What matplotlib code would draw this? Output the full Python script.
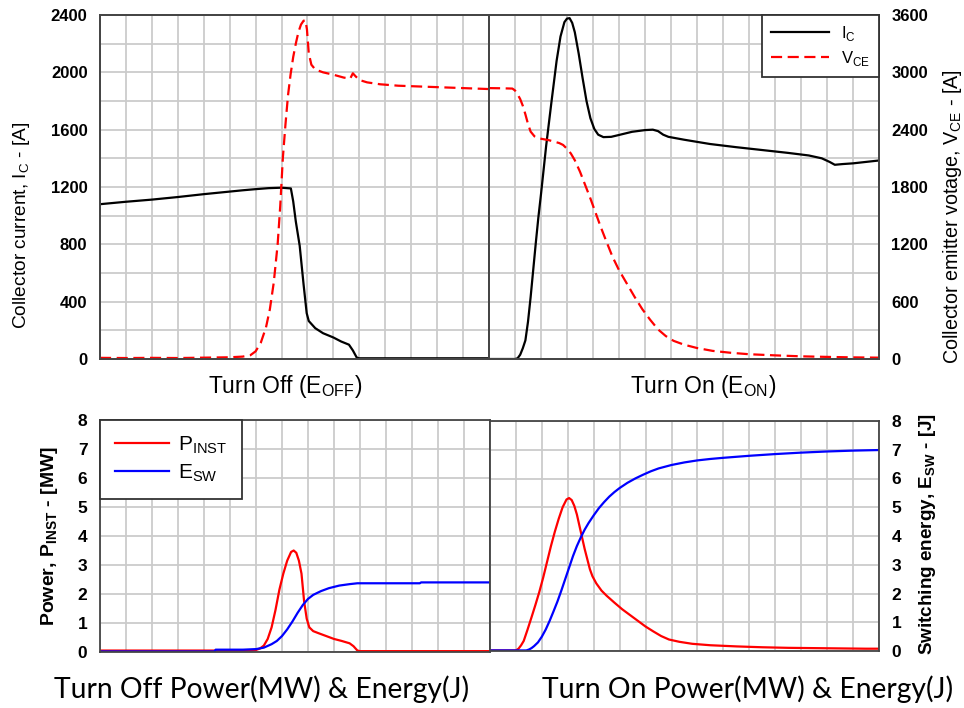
import matplotlib
matplotlib.use("Agg")
import matplotlib.pyplot as plt
from matplotlib.ticker import MultipleLocator

# ---------------- data (x in grid divisions 0..15) ----------------
off_ic_t = [0, 1, 2, 3, 4, 5, 5.5, 6, 6.5, 7, 7.36, 7.45, 7.55, 7.7, 7.85, 7.97, 8.05,
            8.3, 8.6, 9.0, 9.3, 9.6, 9.75, 9.9, 10.0, 11, 12, 13, 14, 15]
off_ic = [1080, 1097, 1112, 1130, 1150, 1168, 1177, 1185, 1192, 1195, 1190, 1100, 960,
          790, 520, 320, 265, 215, 180, 150, 122, 100, 60, 10, 5, 5, 5, 5, 5, 5]

off_vce_t = [0, 1, 2, 3, 4, 5, 5.5, 5.8, 6.0, 6.2, 6.4, 6.55, 6.7, 6.85, 6.95, 7.05, 7.15,
             7.25, 7.35, 7.45, 7.55, 7.65, 7.75, 7.85, 7.92, 7.98, 8.05, 8.15, 8.3, 8.6,
             9.0, 9.4, 9.65, 9.75, 9.85, 10.0, 10.3, 10.8, 11.5, 12.5, 13.5, 14.5, 15]
off_vce = [12, 10, 12, 10, 14, 18, 25, 40, 80, 170, 330, 520, 800, 1200, 1600, 2100, 2450,
           2760, 2980, 3160, 3300, 3420, 3500, 3540, 3545, 3450, 3200, 3080, 3030, 3000,
           2975, 2945, 2935, 2990, 2960, 2920, 2895, 2875, 2860, 2850, 2840, 2830, 2825]

on_ic_t = [0, 1.0, 1.1, 1.2, 1.3, 1.4, 1.5, 1.6, 1.7, 1.8, 1.9, 2.0, 2.2, 2.4, 2.6, 2.75,
           2.9, 3.0, 3.1, 3.2, 3.3, 3.45, 3.6, 3.75, 3.9, 4.05, 4.2, 4.4, 4.7, 5.0, 5.5,
           6.0, 6.3, 6.5, 6.7, 6.9, 7.5, 8.5, 9.5, 10.5, 11.5, 12.3, 12.8, 13.1, 13.3,
           13.6, 14.0, 14.5, 15]
on_ic = [0, 0, 5, 30, 75, 130, 260, 430, 620, 810, 990, 1150, 1490, 1790, 2080, 2250,
         2350, 2375, 2378, 2345, 2280, 2130, 1960, 1800, 1680, 1605, 1565, 1548, 1550,
         1563, 1585, 1597, 1600, 1590, 1565, 1550, 1530, 1500, 1478, 1458, 1438, 1420,
         1400, 1375, 1355, 1360, 1365, 1375, 1385]

on_vce_t = [0, 0.5, 0.9, 1.0, 1.1, 1.2, 1.3, 1.4, 1.5, 1.6, 1.75, 1.9, 2.1, 2.3, 2.5, 2.7,
            2.85, 3.0, 3.15, 3.3, 3.5, 3.7, 3.9, 4.1, 4.3, 4.5, 4.75, 5.0, 5.3, 5.6, 5.9,
            6.2, 6.5, 6.8, 7.1, 7.5, 8.0, 8.6, 9.3, 10.0, 11.0, 12.0, 13.0, 14.0, 15]
on_vce = [2835, 2833, 2830, 2810, 2770, 2720, 2650, 2560, 2460, 2380, 2330, 2310, 2300,
          2290, 2275, 2260, 2240, 2200, 2150, 2080, 1960, 1820, 1680, 1530, 1380, 1240,
          1070, 930, 790, 650, 520, 410, 310, 240, 190, 150, 115, 85, 65, 50, 38, 28, 22,
          17, 14]

off_p_t = [0, 1, 2, 3, 4, 5, 5.8, 6.0, 6.15, 6.3, 6.45, 6.6, 6.75, 6.9, 7.05, 7.2, 7.35,
           7.45, 7.55, 7.65, 7.75, 7.85, 7.95, 8.05, 8.2, 8.4, 8.7, 9.0, 9.3, 9.6, 9.75,
           9.9, 10.0, 11, 12, 13, 14, 15]
off_p = [0.05, 0.05, 0.05, 0.05, 0.05, 0.05, 0.05, 0.07, 0.12, 0.22, 0.45, 0.85, 1.45,
         2.15, 2.7, 3.15, 3.45, 3.5, 3.42, 3.15, 2.7, 1.75, 1.15, 0.85, 0.72, 0.65, 0.55,
         0.45, 0.38, 0.3, 0.2, 0.05, 0.03, 0.03, 0.03, 0.03, 0.03, 0.03]

off_e_t = [0, 1, 2, 3, 4, 4.4, 4.45, 5, 5.5, 6.0, 6.3, 6.6, 6.8, 7.0, 7.2, 7.4, 7.6, 7.8,
           8.0, 8.2, 8.5, 8.8, 9.2, 9.6, 9.9, 11, 12.3, 12.35, 13, 14, 15]
off_e = [0.02, 0.02, 0.02, 0.02, 0.02, 0.02, 0.08, 0.08, 0.08, 0.1, 0.15, 0.27, 0.38,
         0.55, 0.78, 1.05, 1.35, 1.62, 1.83, 1.97, 2.1, 2.2, 2.29, 2.34, 2.37, 2.37, 2.37,
         2.4, 2.4, 2.4, 2.4]

on_p_t = [0, 0.5, 1.0, 1.1, 1.2, 1.3, 1.45, 1.6, 1.75, 1.9, 2.05, 2.2, 2.35, 2.5, 2.65,
          2.8, 2.95, 3.05, 3.15, 3.25, 3.35, 3.45, 3.55, 3.65, 3.75, 3.85, 3.95, 4.1, 4.3,
          4.5, 4.8, 5.1, 5.4, 5.7, 6.0, 6.3, 6.6, 6.9, 7.3, 7.8, 8.5, 9.5, 10.5, 11.5,
          12.5, 13.5, 14.5, 15]
on_p = [0.02, 0.02, 0.02, 0.08, 0.2, 0.35, 0.75, 1.17, 1.6, 2.05, 2.55, 3.1, 3.65, 4.15,
        4.6, 5.0, 5.27, 5.32, 5.25, 5.05, 4.75, 4.35, 3.95, 3.55, 3.2, 2.85, 2.6, 2.35,
        2.1, 1.92, 1.68, 1.45, 1.25, 1.05, 0.85, 0.68, 0.52, 0.4, 0.32, 0.25, 0.2, 0.16,
        0.13, 0.11, 0.1, 0.09, 0.08, 0.08]

on_e_t = [0, 1.0, 1.4, 1.5, 1.6, 1.7, 1.85, 2.0, 2.15, 2.3, 2.45, 2.6, 2.75, 2.9, 3.05,
          3.2, 3.35, 3.5, 3.65, 3.8, 4.0, 4.2, 4.4, 4.6, 4.8, 5.0, 5.3, 5.6, 5.9, 6.2, 6.5,
          7.0, 7.5, 8.0, 8.5, 9.0, 10.0, 11.0, 12.0, 13.0, 14.0, 15]
on_e = [0.02, 0.02, 0.02, 0.05, 0.1, 0.17, 0.3, 0.5, 0.75, 1.05, 1.38, 1.72, 2.1, 2.5,
        2.9, 3.3, 3.65, 3.95, 4.22, 4.45, 4.72, 4.97, 5.18, 5.37, 5.53, 5.67, 5.85, 6.0,
        6.13, 6.25, 6.35, 6.47, 6.56, 6.63, 6.68, 6.72, 6.79, 6.85, 6.9, 6.94, 6.97, 6.99]

ic_ticks = [0, 400, 800, 1200, 1600, 2000, 2400]
vce_ticks = [0, 600, 1200, 1800, 2400, 3000, 3600]
pe_ticks = [0, 1, 2, 3, 4, 5, 6, 7, 8]

# ---------------- figure ----------------
W, H = 964, 708
fig = plt.figure(figsize=(W / 100, H / 100), dpi=100)

SANS = ["Liberation Sans", "DejaVu Sans"]
NARROW = ["Liberation Sans Narrow", "Liberation Sans", "DejaVu Sans"]
GRID = "#cbcbcb"
FRAME = "#454545"
LW = 1.6


def ax_px(x0, y0, x1, y1):
    return fig.add_axes([x0 / W, 1 - y1 / H, (x1 - x0) / W, (y1 - y0) / H])


def base(ax, ymax, major, minor):
    ax.set_xlim(0, 15)
    ax.set_ylim(0, ymax)
    ax.xaxis.set_major_locator(MultipleLocator(1))
    ax.yaxis.set_major_locator(MultipleLocator(major))
    ax.yaxis.set_minor_locator(MultipleLocator(minor))
    ax.grid(True, which="both", color=GRID, lw=1.3)
    ax.set_axisbelow(True)
    ax.tick_params(which="both", length=0, labelbottom=False, labelleft=False)
    for s in ax.spines.values():
        s.set_color(FRAME)
        s.set_linewidth(1.3)


def twin(ax, ymax):
    tw = ax.twinx()
    tw.set_ylim(0, ymax)
    tw.tick_params(which="both", length=0, labelright=False)
    for s in tw.spines.values():
        s.set_color(FRAME)
        s.set_linewidth(1.3)
    return tw


def tickfont(ax, size):
    for lab in ax.get_yticklabels():
        lab.set_fontfamily(SANS)
        lab.set_fontweight("bold")
        lab.set_fontsize(size)


# ---- top left: turn off ----
a1 = ax_px(100, 15, 489, 359)
base(a1, 2400, 400, 200)
a1.set_yticks(ic_ticks)
a1.tick_params(labelleft=True, pad=9)
tickfont(a1, 12)
a1.plot(off_ic_t, off_ic, color="black", lw=LW)
a1r = twin(a1, 3600)
a1r.plot(off_vce_t, off_vce, color="#ff0000", lw=LW, dashes=(5, 2.5))

# ---- top right: turn on ----
a2 = ax_px(489, 15, 879, 359)
base(a2, 2400, 400, 200)
l_ic, = a2.plot(on_ic_t, on_ic, color="black", lw=LW)
a2r = twin(a2, 3600)
a2r.set_yticks(vce_ticks)
a2r.tick_params(labelright=True, pad=9)
tickfont(a2r, 12)
l_vce, = a2r.plot(on_vce_t, on_vce, color="#ff0000", lw=LW, dashes=(5, 2.5))
leg = a2r.legend([l_ic, l_vce], [r"I$_\mathregular{C}$", r"V$_\mathregular{CE}$"],
                 loc="upper right", bbox_to_anchor=(1, 1), borderaxespad=0,
                 fancybox=False, framealpha=1, edgecolor="#333333",
                 prop={"family": SANS, "size": 12}, handlelength=3.5,
                 handletextpad=0.7, labelspacing=0.35, borderpad=0.55)
leg.get_frame().set_linewidth(1.3)

# ---- bottom left ----
b1 = ax_px(100, 420, 490, 652)
base(b1, 8, 1, 1)
b1.set_yticks(pe_ticks)
b1.tick_params(labelleft=True, pad=9)
tickfont(b1, 12.5)
lp, = b1.plot(off_p_t, off_p, color="#ff0000", lw=LW)
le, = b1.plot(off_e_t, off_e, color="#0000ff", lw=LW)
leg2 = b1.legend([lp, le], [r"P$_\mathregular{INST}$", r"E$_\mathregular{SW}$"],
                 loc="upper left", bbox_to_anchor=(0, 1), borderaxespad=0,
                 fancybox=False, framealpha=1, edgecolor="#333333",
                 prop={"family": SANS, "size": 15}, handlelength=2.6,
                 handletextpad=0.45, labelspacing=0.3, borderpad=0.7)
leg2.get_frame().set_linewidth(1.3)

# ---- bottom right ----
b2 = ax_px(490, 421, 879, 651)
base(b2, 8, 1, 1)
b2.set_yticks(pe_ticks)
b2.tick_params(labelleft=False, labelright=True, pad=9)
tickfont(b2, 12.5)
b2.plot(on_p_t, on_p, color="#ff0000", lw=LW)
b2.plot(on_e_t, on_e, color="#0000ff", lw=LW)

# ---------------- texts ----------------
def ftext(x, y, s, **kw):
    fig.text(x / W, 1 - y / H, s, ha="center", va="center", **kw)


ftext(22, 225, r"Collector current, I$_\mathregular{C}$ - [A]", rotation=90,
      family=NARROW, fontsize=13.8)
ftext(953, 217, r"Collector emitter votage, V$_\mathregular{CE}$ - [A]", rotation=90,
      family=NARROW, fontsize=14.2)
ftext(50, 536, r"Power, P$_\mathregular{INST}$ - [MW]", rotation=90,
      family=SANS, fontsize=14, fontweight="bold")
ftext(928, 534, r"Switching energy, E$_\mathregular{SW}$ - [J]", rotation=90,
      family=SANS, fontsize=13.6, fontweight="bold")

ftext(285, 386, r"Turn Off (E$_\mathregular{OFF}$)", family=SANS, fontsize=16.5)
ftext(703, 386, r"Turn On (E$_\mathregular{ON}$)", family=SANS, fontsize=16.5)
ftext(262, 689, "Turn Off Power(MW) & Energy(J)", family=["Lato", "DejaVu Sans"],
      fontsize=20.3)
ftext(748, 689, "Turn On Power(MW) & Energy(J)", family=["Lato", "DejaVu Sans"],
      fontsize=20.3)

fig.savefig("out.png", dpi=100, facecolor="white")
